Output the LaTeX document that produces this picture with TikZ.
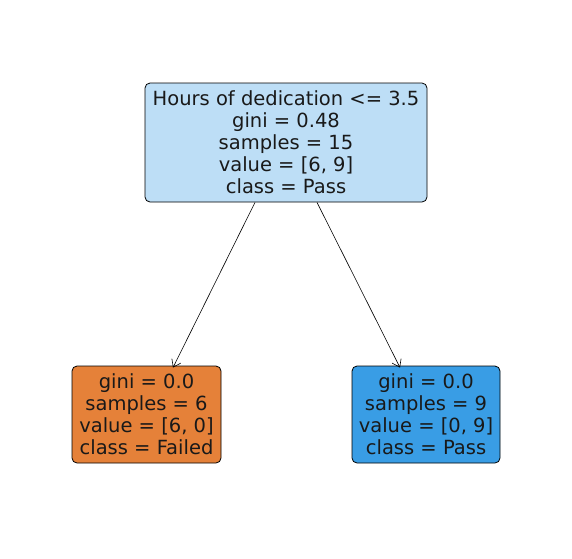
\documentclass[tikz,border=0pt]{standalone}
\usepackage{fontspec}
\setmainfont{DejaVu Sans}
\usepackage{tikz}
\usetikzlibrary{arrows.meta}
\definecolor{rootblue}{HTML}{BDDEF6}
\definecolor{passblue}{HTML}{399DE5}
\definecolor{failorange}{HTML}{E58139}
\tikzset{treebox/.style={draw=black,line width=0.8pt,rounded corners=5pt,align=center,
  inner sep=0pt,font=\fontsize{19.5}{22}\selectfont,text=black!90},
  treeedge/.style={-{Straight Barb[length=7pt,width=10pt]},line width=0.6pt}}

\begin{document}
\begin{tikzpicture}[x=1pt,y=-1pt]
\useasboundingbox (0,0) rectangle (572,558);
\node[treebox,fill=rootblue,minimum width=282pt,minimum height=119pt] (root) at (286,142.5)
  {Hours of dedication <= 3.5\\gini = 0.48\\samples = 15\\value = [6, 9]\\class = Pass};
\node[treebox,fill=failorange,minimum width=149pt,minimum height=97pt] (failed) at (146.5,414.5)
  {gini = 0.0\\samples = 6\\value = [6, 0]\\class = Failed};
\node[treebox,fill=passblue,minimum width=148pt,minimum height=97pt] (pass) at (426,414.5)
  {gini = 0.0\\samples = 9\\value = [0, 9]\\class = Pass};

\draw[treeedge] ([xshift=-31pt]root.south) -- ([xshift=26.5pt,yshift=-2pt]failed.north);
\draw[treeedge] ([xshift=31pt]root.south) -- ([xshift=-26pt,yshift=-2pt]pass.north);
\end{tikzpicture}
\end{document}
